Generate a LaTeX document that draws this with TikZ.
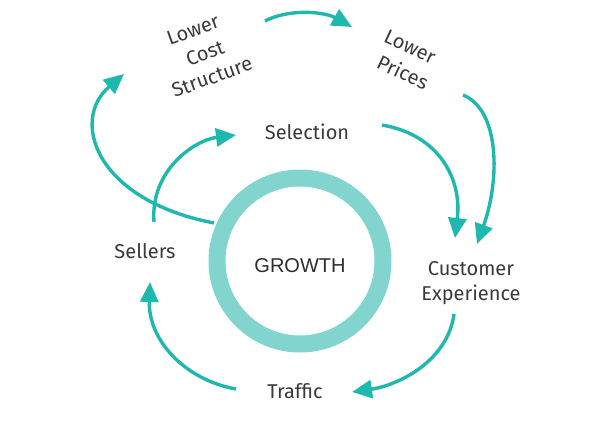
\documentclass[tikz,border=0pt]{standalone}
\usepackage{fontspec}
\setmainfont{Fira Sans}
\newfontfamily\arialfont{Liberation Sans}
\usetikzlibrary{arrows.meta}
\definecolor{teal1}{HTML}{1FB8AF}
\definecolor{ringc}{HTML}{82D5CE}
\definecolor{txt}{HTML}{3A3A3A}
\tikzset{
  lbl/.style={text=txt, font=\fontsize{20}{25}\selectfont, align=center, inner sep=0pt},
  flow/.style={draw=teal1, line width=3.4pt, -{Triangle[length=20pt,width=18pt]}},
}
\begin{document}
\begin{tikzpicture}[x=1pt,y=-1pt]
\useasboundingbox[fill=white] (0,0) rectangle (606,421);
% ring
\node[circle, draw=ringc, line width=17pt, minimum size=166pt, inner sep=0pt] (growth) at (300,261) {};
\node[text=black!82, font=\arialfont\fontsize{20}{22}\selectfont] (gt) at (300,266) {GROWTH};
% labels
\node[lbl, rotate=20] (lcs1) at (193,30) {Lower};
\node[lbl, rotate=20] (lcs2) at (205,53) {Cost};
\node[lbl, rotate=20] (lcs3) at (212,77) {Structure};
\node[lbl, rotate=-25] (lp1) at (410,47) {Lower};
\node[lbl, rotate=-25] (lp2) at (403,72) {Prices};
\node[lbl] (sel) at (307,132) {Selection};
\node[lbl] (sell) at (145,251) {Sellers};
\node[lbl] (cx) at (471,283) {Customer\\Experience};
\node[lbl] (tr) at (295,391) {Traffic};
% connector coordinates
\coordinate (a1) at (265,21);  \coordinate (b1) at (352,27);
\coordinate (a2) at (463,95);  \coordinate (b2) at (477,244);
\coordinate (a3) at (382,125); \coordinate (b3) at (455,238);
\coordinate (a4) at (454,314); \coordinate (b4) at (352,392);
\coordinate (a5) at (236,389); \coordinate (b5) at (150,282);
\coordinate (a6) at (154,222); \coordinate (b6) at (236,135);
\coordinate (a7) at (214,223); \coordinate (b7) at (124,74);
% connectors
\draw[flow] (a1) .. controls (290,8) and (325,12) .. (b1);
\draw[flow] (a2) .. controls (500,110) and (500,180) .. (b2);
\draw[flow] (a3) .. controls (440,135) and (462,180) .. (b3);
\draw[flow] (a4) .. controls (448,360) and (400,385) .. (b4);
\draw[flow] (a5) .. controls (185,380) and (148,340) .. (b5);
\draw[flow] (a6) .. controls (150,170) and (195,140) .. (b6);
\draw[flow] (a7) .. controls (95,200) and (70,120) .. (b7);
\end{tikzpicture}
\end{document}
